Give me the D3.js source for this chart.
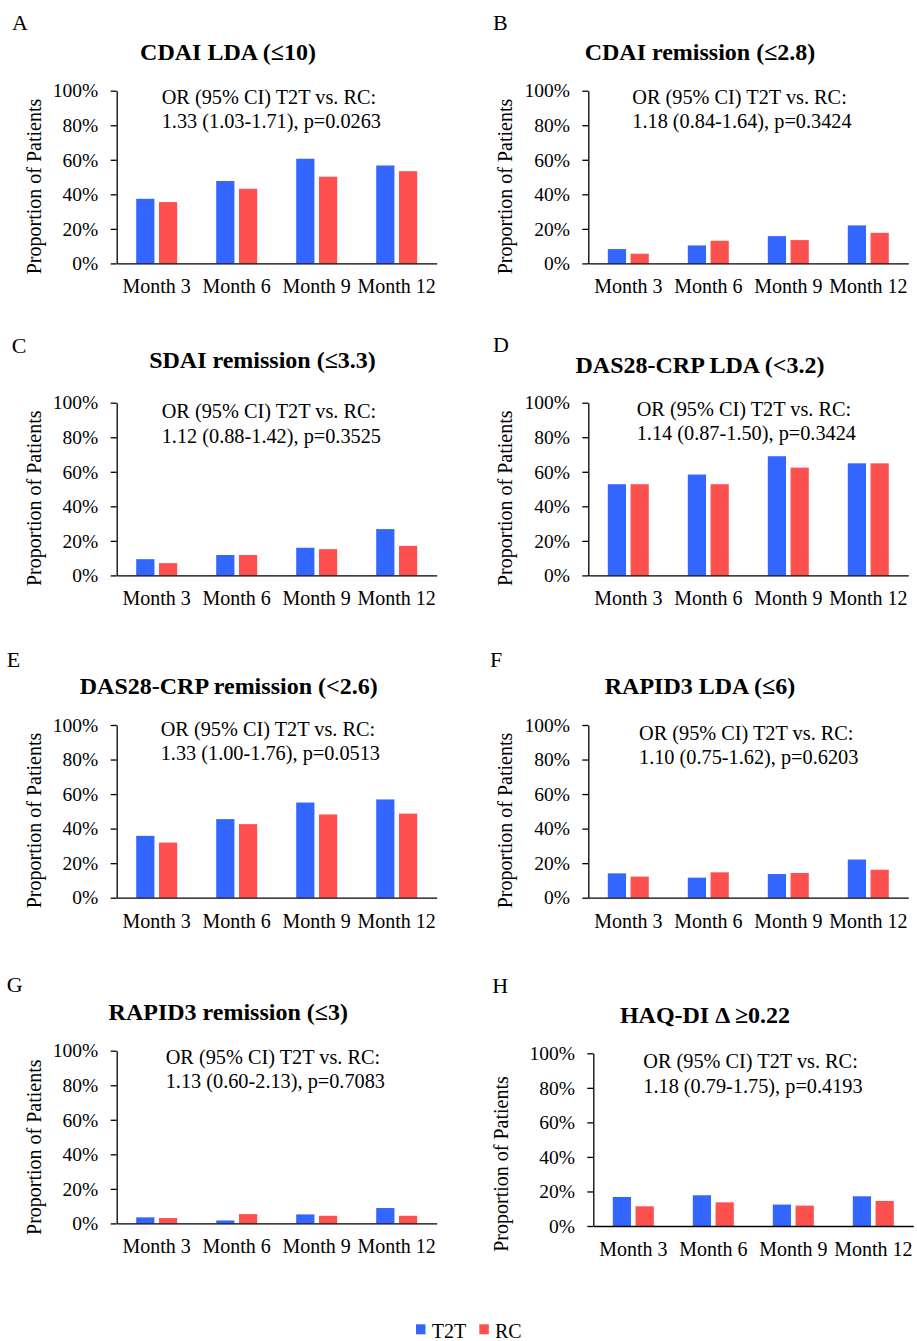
<!DOCTYPE html>
<html>
<head>
<meta charset="utf-8">
<script src="https://cdn.jsdelivr.net/npm/d3@7"></script>
<style>
  body { margin: 0; background: #fff; }
  svg text { font-family: "Liberation Serif", "Times New Roman", serif; fill: #000; }
</style>
</head>
<body>
<div id="chart"></div>
<script>
var months = ["Month 3", "Month 6", "Month 9", "Month 12"];
var series = ["T2T", "RC"];
var yTicks = [0, 0.2, 0.4, 0.6, 0.8, 1];

var letters = ["A", "B", "C", "D", "E", "F", "G", "H"];
var titles = [
  "CDAI LDA (≤10)",
  "CDAI remission (≤2.8)",
  "SDAI remission (≤3.3)",
  "DAS28-CRP LDA (<3.2)",
  "DAS28-CRP remission (<2.6)",
  "RAPID3 LDA (≤6)",
  "RAPID3 remission (≤3)",
  "HAQ-DI Δ ≥0.22"
];
var orHeader = "OR (95% CI) T2T vs. RC:";
var orValues = [
  "1.33 (1.03-1.71), p=0.0263",
  "1.18 (0.84-1.64), p=0.3424",
  "1.12 (0.88-1.42), p=0.3525",
  "1.14 (0.87-1.50), p=0.3424",
  "1.33 (1.00-1.76), p=0.0513",
  "1.10 (0.75-1.62), p=0.6203",
  "1.13 (0.60-2.13), p=0.7083",
  "1.18 (0.79-1.75), p=0.4193"
];

// proportion of patients, % per month (3, 6, 9, 12)
var t2t = [
  [37.4, 47.7, 60.6, 56.7],
  [8.3, 10.4, 15.8, 22.0],
  [9.4, 11.8, 16.0, 26.8],
  [52.8, 58.4, 69.0, 64.9],
  [35.8, 45.5, 55.1, 56.9],
  [14.1, 11.6, 13.7, 22.1],
  [3.5, 1.7, 5.2, 8.9],
  [16.8, 17.8, 12.4, 17.2]
];
var rc = [
  [35.5, 43.2, 50.2, 53.4],
  [5.6, 13.1, 13.5, 17.7],
  [7.1, 11.8, 15.2, 17.1],
  [52.8, 52.8, 62.4, 64.9],
  [31.9, 42.6, 48.2, 48.7],
  [12.2, 14.7, 14.3, 16.2],
  [3.1, 5.4, 4.4, 4.4],
  [11.4, 13.7, 11.8, 14.5]
];

var color = d3.scaleOrdinal().domain(series).range(["#3366ff", "#ff5050"]);

// where each panel sits on the page
var layout = [
  { ax: 116.7, ay: 90.7, tx: 228, ty: 60, lx: 12, ly: 30, ox: 161.7, oy: 104, yl: [-76, 95.8] },
  { ax: 588.3, ay: 90.7, tx: 700, ty: 60, lx: 493, ly: 30, ox: 632.3, oy: 104, yl: [-76, 95.8] },
  { ax: 116.7, ay: 402.7, tx: 262.5, ty: 368.3, lx: 11.7, ly: 353.3, ox: 161.7, oy: 418.3, yl: [-76, 95.6] },
  { ax: 588.3, ay: 402.7, tx: 700, ty: 372.7, lx: 493, ly: 351.7, ox: 636.7, oy: 416, yl: [-76, 95.6] },
  { ax: 116.7, ay: 725, tx: 228.7, ty: 694, lx: 6.7, ly: 666.7, ox: 160.7, oy: 735.7, yl: [-76, 95.5] },
  { ax: 588.3, ay: 725, tx: 700, ty: 694, lx: 490, ly: 666.7, ox: 639, oy: 740, yl: [-76, 95.5] },
  { ax: 116.7, ay: 1050.7, tx: 228.3, ty: 1020, lx: 6.7, ly: 991.7, ox: 165.7, oy: 1064, yl: [-76, 96.5] },
  { ax: 593.3, ay: 1053.3, tx: 705, ty: 1023.3, lx: 492.3, ly: 993.3, ox: 643.3, oy: 1068.3, yl: [-85.6, 110.7] }
];

var width = 917,
  height = 1341,
  plotW = 320,
  plotH = 172.7;

var svg = d3
  .select("#chart")
  .append("svg")
  .attr("width", width)
  .attr("height", height);

svg.append("rect").attr("width", width).attr("height", height).attr("fill", "#fff");

var x0 = d3.scaleBand().domain(months).range([0, plotW]);
var x1 = d3.scaleBand().domain(series).range([0, 41]).paddingInner(0.2);
var y = d3.scaleLinear().domain([0, 1]).range([plotH, 0]);

layout.forEach(function(p, i) {
  svg
    .append("text")
    .attr("x", p.lx)
    .attr("y", p.ly)
    .style("font-size", "22px")
    .text(letters[i]);

  svg
    .append("text")
    .attr("x", p.tx)
    .attr("y", p.ty)
    .attr("text-anchor", "middle")
    .style("font-size", "24px")
    .style("font-weight", "bold")
    .text(titles[i]);

  var g = svg.append("g").attr("transform", "translate(" + p.ax + "," + p.ay + ")");

  var rows = months.map(function(m, j) {
    return { month: m, T2T: t2t[i][j] / 100, RC: rc[i][j] / 100 };
  });

  g.selectAll(".month")
    .data(rows)
    .enter()
    .append("g")
    .attr("class", "month")
    .attr("transform", function(d) {
      return "translate(" + (x0(d.month) + (x0.bandwidth() - 41) / 2) + ",0)";
    })
    .selectAll("rect")
    .data(function(d) {
      return series.map(function(s) {
        return { key: s, value: d[s] };
      });
    })
    .enter()
    .append("rect")
    .attr("x", function(d) {
      return x1(d.key);
    })
    .attr("width", x1.bandwidth())
    .attr("y", function(d) {
      return y(d.value);
    })
    .attr("height", function(d) {
      return plotH - y(d.value);
    })
    .attr("fill", function(d) {
      return color(d.key);
    });

  var yAxis = g
    .append("g")
    .call(
      d3
        .axisLeft(y)
        .tickValues(yTicks)
        .tickFormat(d3.format(".0%"))
        .tickSize(6)
        .tickSizeOuter(0)
        .tickPadding(12.4)
    );
  yAxis.selectAll("text").style("font-size", "19.5px").attr("fill", "#000");

  var xAxis = g
    .append("g")
    .attr("transform", "translate(0," + plotH + ")")
    .call(d3.axisBottom(x0).tickSize(0).tickSizeOuter(0));
  xAxis
    .selectAll("text")
    .attr("y", 30)
    .attr("dy", 0)
    .style("font-size", "20px")
    .attr("fill", "#000");

  g.selectAll(".domain, .tick line").attr("stroke", "#000").attr("stroke-width", 1.3);
  g.selectAll(".tick text").style("font-family", '"Liberation Serif", "Times New Roman", serif');

  g.append("text")
    .attr("transform", "translate(" + p.yl[0] + "," + p.yl[1] + ") rotate(-90)")
    .attr("text-anchor", "middle")
    .style("font-size", "20px")
    .text("Proportion of Patients");

  svg
    .append("text")
    .attr("x", p.ox)
    .attr("y", p.oy)
    .style("font-size", "20.3px")
    .text(orHeader);
  svg
    .append("text")
    .attr("x", p.ox)
    .attr("y", p.oy + 24.3)
    .style("font-size", "20.3px")
    .text(orValues[i]);
});

var legend = svg
  .append("g")
  .selectAll("g")
  .data(series)
  .enter()
  .append("g")
  .attr("transform", function(d, i) {
    return "translate(" + (416 + i * 63.3) + ",1324.3)";
  });
legend
  .append("rect")
  .attr("width", 9.5)
  .attr("height", 10)
  .attr("fill", function(d) {
    return color(d);
  });
legend
  .append("text")
  .attr("x", 15.7)
  .attr("y", 13.4)
  .style("font-size", "20px")
  .text(function(d) {
    return d;
  });
</script>
</body>
</html>
